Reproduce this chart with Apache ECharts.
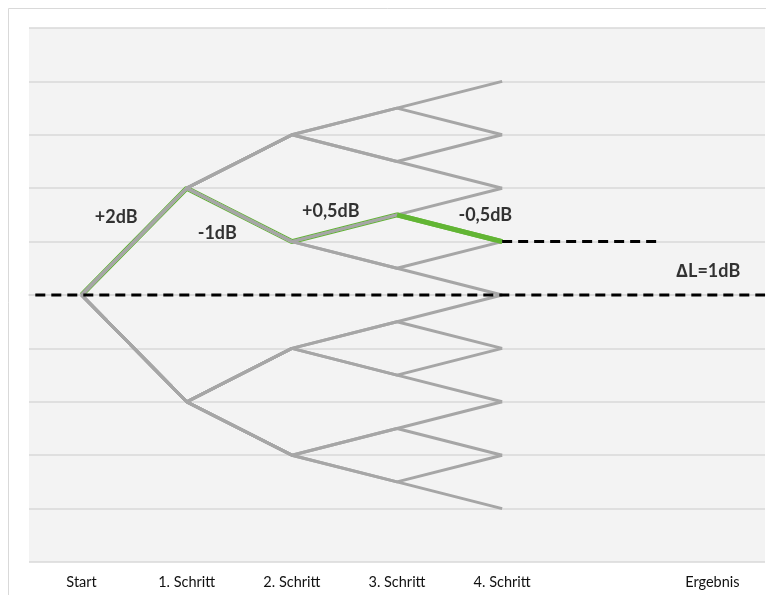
<!DOCTYPE html>
<html>
<head>
<meta charset="utf-8">
<script src="https://cdn.jsdelivr.net/npm/echarts@6/dist/echarts.min.js"></script>
<style>
html,body{margin:0;padding:0;background:#fff;}
#chart{width:766px;height:595px;}
</style>
</head>
<body>
<div id="chart"></div>
<script>
// Categories (x axis)
const categories = ['Start', '1. Schritt', '2. Schritt', '3. Schritt', '4. Schritt', '', 'Ergebnis'];

// Tree paths (level in dB at Start, 1.–4. Schritt)
const treePaths = [
  [0, 2, 3, 3.5, 4],
  [0, 2, 3, 3.5, 3],
  [0, 2, 3, 2.5, 3],
  [0, 2, 3, 2.5, 2],
  [0, 2, 1, 1.5, 2],
  [0, 2, 1, 1.5, 1],
  [0, 2, 1, 0.5, 1],
  [0, 2, 1, 0.5, 0],
  [0, -2, -1, -0.5, 0],
  [0, -2, -1, -0.5, -1],
  [0, -2, -1, -1.5, -1],
  [0, -2, -1, -1.5, -2],
  [0, -2, -3, -2.5, -2],
  [0, -2, -3, -2.5, -3],
  [0, -2, -3, -3.5, -3],
  [0, -2, -3, -3.5, -4]
];

// Highlighted path
const greenPath = [0, 2, 1, 1.5, 1];
const greenLastStep = [null, null, null, 1.5, 1];

// Dashed reference lines (x in category units on hidden value axis, y in dB)
const dashZero = [[0.06, 0], [7, 0]];
const dashResult = [[4.5, 1], [6.01, 1]];

// Annotations
const annotationTexts = ['+2dB', '-1dB', '+0,5dB', '-0,5dB', '\u2206L=1dB'];
const annotationX = [0.83, 1.79, 2.87, 4.34, 6.46];
const annotationY = [1.46, 1.16, 1.57, 1.50, 0.45];

const GRAY = '#a6a6a6';
const GREEN = '#62b534';
const FONT = 'Lato, "Open Sans", sans-serif';

const series = [];
series.push({
  type: 'line', xAxisIndex: 0, data: greenPath, symbol: 'none', silent: true,
  lineStyle: { color: GREEN, width: 5 }
});
treePaths.forEach(p => {
  series.push({
    type: 'line', xAxisIndex: 0, data: p, symbol: 'none', silent: true,
    lineStyle: { color: GRAY, width: 3 }
  });
});
series.push({
  type: 'line', xAxisIndex: 0, data: greenLastStep, symbol: 'none', silent: true,
  lineStyle: { color: GREEN, width: 5 }
});
[dashZero, dashResult].forEach(d => {
  series.push({
    type: 'line', xAxisIndex: 1, data: d, symbol: 'none', silent: true, clip: false,
    lineStyle: { color: '#000', width: 3, type: [10, 6] }
  });
});
series.push({
  type: 'scatter', xAxisIndex: 1, symbolSize: 0, silent: true,
  data: annotationTexts.map((t, i) => ({ value: [annotationX[i], annotationY[i]], name: t })),
  label: {
    show: true, position: 'inside', formatter: p => p.name,
    fontFamily: FONT, fontWeight: 'bold', fontSize: 18, color: '#000'
  }
});

const chart = echarts.init(document.getElementById('chart'), null, { renderer: 'canvas' });
chart.setOption({
  animation: false,
  backgroundColor: '#fff',
  graphic: [{
    type: 'rect', z: -10, silent: true,
    shape: { x: 8.5, y: 8.5, width: 800, height: 800 },
    style: { fill: 'none', stroke: '#d9d9d9', lineWidth: 1 }
  }],
  grid: {
    left: 29, right: 1, top: 28, bottom: 33,
    show: true, backgroundColor: '#f3f3f3', borderWidth: 0
  },
  xAxis: [{
    type: 'category', data: categories, boundaryGap: true,
    axisLine: { show: true, lineStyle: { color: '#d9d9d9', width: 1.5 } },
    axisTick: { show: false },
    axisLabel: { color: '#111', fontSize: 14.5, fontFamily: FONT, margin: 13, interval: 0 },
    splitLine: { show: false }
  }, {
    type: 'value', min: 0, max: 7, show: false
  }],
  yAxis: {
    type: 'value', min: -5, max: 5, interval: 1,
    axisLine: { show: false }, axisTick: { show: false }, axisLabel: { show: false },
    splitLine: { show: true, lineStyle: { color: '#d9d9d9', width: 1.5 } }
  },
  series: series
});
</script>
</body>
</html>
